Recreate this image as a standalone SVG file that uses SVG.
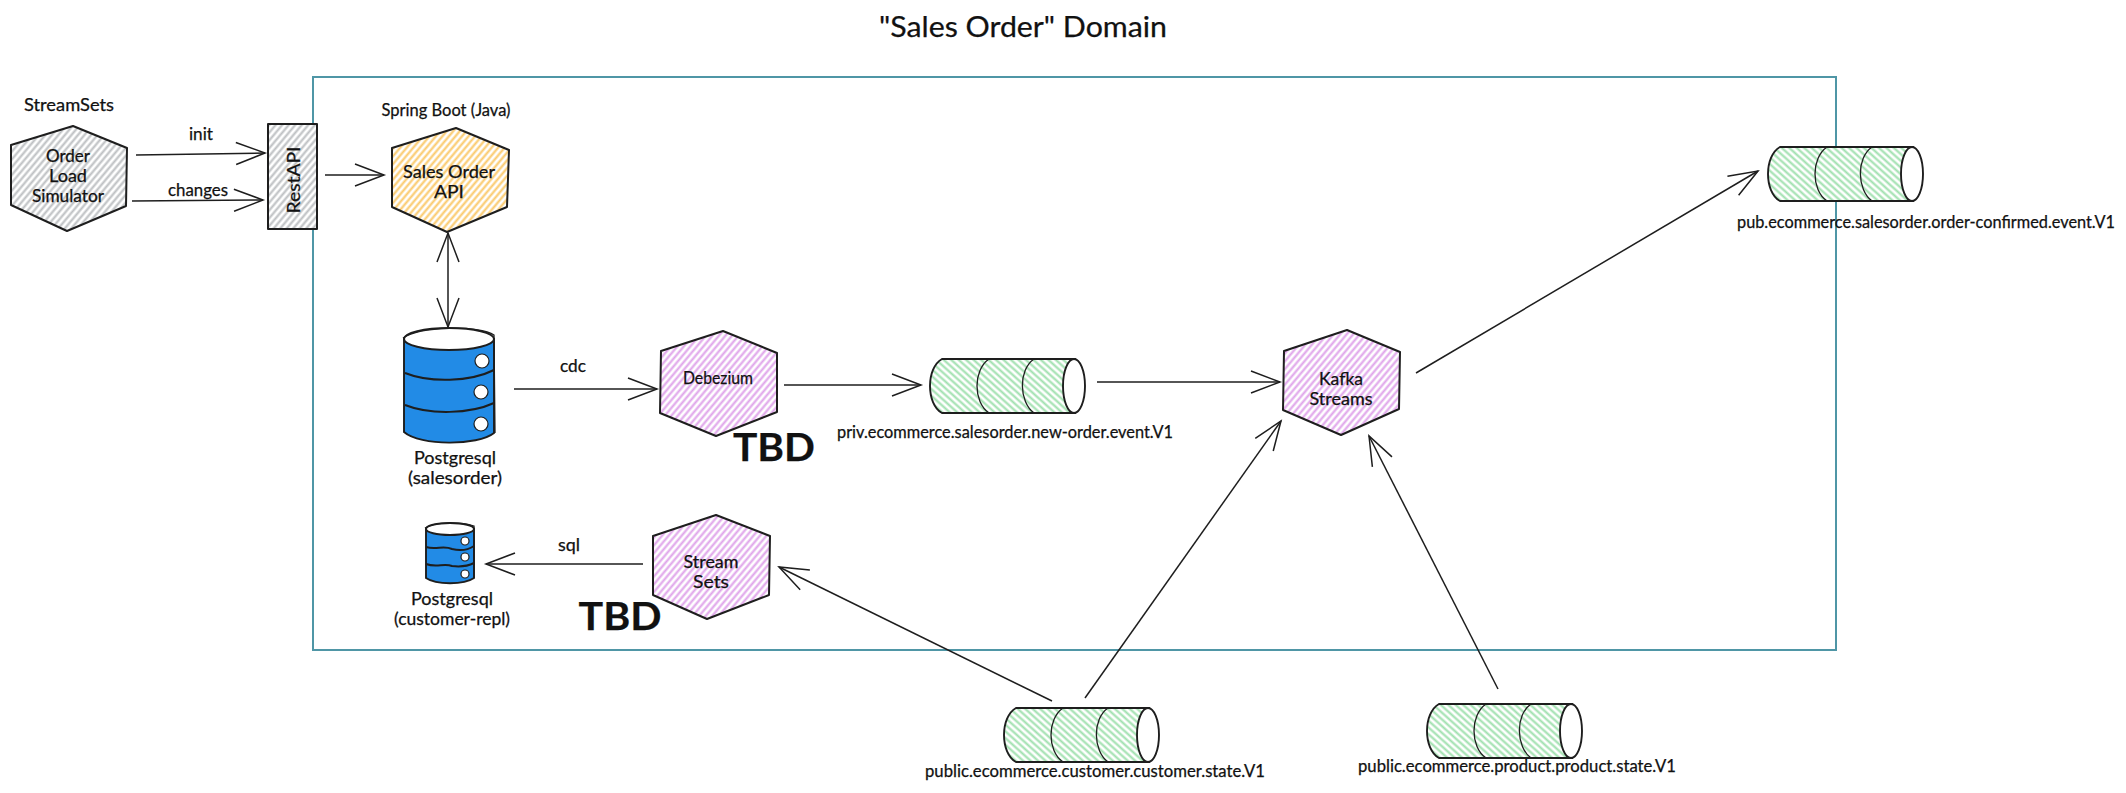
<svg xmlns="http://www.w3.org/2000/svg" width="2126" height="793" viewBox="0 0 2126 793">
<style>
text{font-family:"Lato","Noto Sans",sans-serif;fill:#111;stroke:#111;stroke-width:.25;text-anchor:middle;font-size:16.5px}
.big{font-size:39px;font-weight:700}
.title{font-size:28px}
.hex{stroke:#1e1e1e;stroke-width:2;stroke-linejoin:round}
.sk{fill:none;stroke:#1e1e1e;stroke-width:1.3}
.ln{fill:none;stroke:#1e1e1e;stroke-width:1.5;marker-end:url(#head)}
.band{fill:none;stroke:#1e1e1e;stroke-width:2}
.hole{fill:#fff;stroke:#1e1e1e;stroke-width:1.2}
</style>
<defs>
<pattern id="hGray" width="5" height="5" patternUnits="userSpaceOnUse" patternTransform="rotate(-50)"><rect width="5" height="5" fill="#fff"/><line x1="0" y1="1.5" x2="5" y2="1.5" stroke="#bdbfc2" stroke-width="2.1"/></pattern>
<pattern id="hOrange" width="5" height="5" patternUnits="userSpaceOnUse" patternTransform="rotate(-50)"><rect width="5" height="5" fill="#fff"/><line x1="0" y1="1.5" x2="5" y2="1.5" stroke="#fbc96a" stroke-width="2.1"/></pattern>
<pattern id="hPurple" width="5" height="5" patternUnits="userSpaceOnUse" patternTransform="rotate(-50)"><rect width="5" height="5" fill="#fff"/><line x1="0" y1="1.5" x2="5" y2="1.5" stroke="#dfa3ea" stroke-width="2.1"/></pattern>
<pattern id="hGreen" width="5" height="5" patternUnits="userSpaceOnUse" patternTransform="rotate(42)"><rect width="5" height="5" fill="#fff"/><line x1="0" y1="1.5" x2="5" y2="1.5" stroke="#9fe0ae" stroke-width="2.1"/></pattern>
<marker id="head" viewBox="-32 -14 36 28" refX="0" refY="0" markerWidth="36" markerHeight="28" markerUnits="userSpaceOnUse" orient="auto-start-reverse"><path d="M-29,-11 L0,0 L-29,11" fill="none" stroke="#1e1e1e" stroke-width="1.5"/></marker>
<symbol id="cyl" width="160" height="60" viewBox="-2 -2 160 60" overflow="visible">
<path d="M13,1 L146,1 L146,55 L13,55 C-3,46 -3,10 13,1Z" fill="url(#hGreen)" stroke="#1e1e1e" stroke-width="1.9"/>
<path class="sk" d="M60,1 C44,12 44,44 60,55"/>
<path class="sk" d="M105,1 C89,12 90,44 105,55"/>
<ellipse cx="145" cy="28" rx="11" ry="27" fill="#fff" stroke="#1e1e1e" stroke-width="1.9"/>
</symbol>
</defs>

<rect id="domain-frame" x="313" y="77" width="1523" height="573" fill="none" stroke="#4f96a6" stroke-width="2"/>
<text id="domain-title" class="title" x="1023" y="37" textLength="288" lengthAdjust="spacingAndGlyphs">"Sales Order" Domain</text>

<g id="connectors">
<line class="ln" x1="136" y1="155" x2="265" y2="153"/>
<line class="ln" x1="132" y1="201" x2="263" y2="200"/>
<line class="ln" x1="325" y1="175" x2="384" y2="175"/>
<line class="ln" x1="448" y1="233" x2="448" y2="327" style="marker-start:url(#head)"/>
<line class="ln" x1="514" y1="389" x2="657" y2="389"/>
<line class="ln" x1="784" y1="385" x2="921" y2="385"/>
<line class="ln" x1="1097" y1="382" x2="1280" y2="382"/>
<line class="ln" x1="643" y1="564" x2="486" y2="564"/>
<line class="ln" x1="1052" y1="701" x2="779" y2="567"/>
<line class="ln" x1="1085" y1="698" x2="1281" y2="421"/>
<line class="ln" x1="1498" y1="689" x2="1369" y2="436"/>
<line class="ln" x1="1416" y1="373" x2="1758" y2="171"/>
<text x="201" y="140" textLength="24" lengthAdjust="spacingAndGlyphs">init</text>
<text x="198" y="196" textLength="60" lengthAdjust="spacingAndGlyphs">changes</text>
<text x="573" y="372" textLength="26" lengthAdjust="spacingAndGlyphs">cdc</text>
<text x="569" y="551" textLength="22" lengthAdjust="spacingAndGlyphs">sql</text>
</g>

<g id="order-load-simulator">
<text x="69" y="111" textLength="90" lengthAdjust="spacingAndGlyphs">StreamSets</text>
<polygon class="hex" fill="url(#hGray)" points="73,126 127,148 126,206 67,231 11,205 11,145"/>
<text x="68" y="162" textLength="44" lengthAdjust="spacingAndGlyphs">Order</text>
<text x="68" y="182" textLength="38" lengthAdjust="spacingAndGlyphs">Load</text>
<text x="68" y="202" textLength="72" lengthAdjust="spacingAndGlyphs">Simulator</text>
</g>

<g id="rest-api">
<rect class="hex" x="268" y="124" width="49" height="105" fill="url(#hGray)"/>
<text transform="translate(300,180) rotate(-90)" textLength="67" lengthAdjust="spacingAndGlyphs">RestAPI</text>
</g>

<g id="sales-order-api">
<text x="446" y="116" textLength="129" lengthAdjust="spacingAndGlyphs">Spring Boot (Java)</text>
<polygon class="hex" fill="url(#hOrange)" points="456,128 509,150 507,207 447,232 392,207 392,148"/>
<text x="449" y="178" textLength="92" lengthAdjust="spacingAndGlyphs">Sales Order</text>
<text x="449" y="198" textLength="30" lengthAdjust="spacingAndGlyphs">API</text>
</g>

<g id="postgresql-salesorder">
<path d="M404,339 L404,432 C420,446 478,446 494,433 L494,339Z" fill="#228be6" stroke="#1e1e1e" stroke-width="1.9"/>
<ellipse cx="449" cy="339" rx="45" ry="11" fill="#fff" stroke="#1e1e1e" stroke-width="1.9"/>
<path class="sk" d="M403,338 C420,326 480,325 494,335 L495,433"/>
<path class="band" d="M405,373 C430,383 470,382 494,370"/>
<path class="band" d="M405,405 C430,415 470,414 494,403"/>
<circle class="hole" cx="482" cy="361" r="7"/>
<circle class="hole" cx="481" cy="392" r="7"/>
<circle class="hole" cx="481" cy="424" r="7"/>
<text x="455" y="464" textLength="82" lengthAdjust="spacingAndGlyphs">Postgresql</text>
<text x="455" y="484" textLength="94" lengthAdjust="spacingAndGlyphs">(salesorder)</text>
</g>

<g id="postgresql-customer-repl">
<path d="M426,529 L426,578 C436,585 464,585 474,578 L474,529Z" fill="#228be6" stroke="#1e1e1e" stroke-width="1.9"/>
<ellipse cx="450" cy="529" rx="24" ry="6" fill="#fff" stroke="#1e1e1e" stroke-width="1.9"/>
<path class="sk" d="M425,528 C436,521 462,522 474,526 L474,578"/>
<path class="band" d="M426,547 C436,550 444,545 452,549 C460,551 468,550 474,546"/>
<path class="band" d="M426,564 C436,568 444,563 452,566 C460,567 468,566 474,563"/>
<circle class="hole" cx="465" cy="541" r="4"/>
<circle class="hole" cx="465" cy="557" r="4"/>
<circle class="hole" cx="465" cy="574" r="4"/>
<text x="452" y="605" textLength="82" lengthAdjust="spacingAndGlyphs">Postgresql</text>
<text x="452" y="625" textLength="116" lengthAdjust="spacingAndGlyphs">(customer-repl)</text>
</g>

<g id="debezium">
<polygon class="hex" fill="url(#hPurple)" points="723,331 777,353 777,412 716,436 660,413 661,351"/>
<text x="718" y="384" textLength="70" lengthAdjust="spacingAndGlyphs">Debezium</text>
<text class="big" x="774" y="461" textLength="82" lengthAdjust="spacingAndGlyphs">TBD</text>
</g>

<g id="stream-sets">
<polygon class="hex" fill="url(#hPurple)" points="716,515 770,536 769,595 707,619 653,595 653,536"/>
<text x="711" y="568" textLength="55" lengthAdjust="spacingAndGlyphs">Stream</text>
<text x="711" y="588" textLength="36" lengthAdjust="spacingAndGlyphs">Sets</text>
<text class="big" x="620" y="630" textLength="83" lengthAdjust="spacingAndGlyphs">TBD</text>
</g>

<g id="kafka-streams">
<polygon class="hex" fill="url(#hPurple)" points="1347,330 1400,352 1399,409 1341,435 1283,410 1284,351"/>
<text x="1341" y="385" textLength="44" lengthAdjust="spacingAndGlyphs">Kafka</text>
<text x="1341" y="405" textLength="63" lengthAdjust="spacingAndGlyphs">Streams</text>
</g>

<g id="topic-new-order">
<use href="#cyl" x="927" y="356"/>
<text x="1005" y="438" textLength="336" lengthAdjust="spacingAndGlyphs">priv.ecommerce.salesorder.new-order.event.V1</text>
</g>

<g id="topic-order-confirmed">
<use href="#cyl" x="1765" y="144"/>
<text x="1926" y="228" textLength="378" lengthAdjust="spacingAndGlyphs">pub.ecommerce.salesorder.order-confirmed.event.V1</text>
</g>

<g id="topic-customer">
<use href="#cyl" x="1001" y="705"/>
<text x="1095" y="777" textLength="340" lengthAdjust="spacingAndGlyphs">public.ecommerce.customer.customer.state.V1</text>
</g>

<g id="topic-product">
<use href="#cyl" x="1424" y="701"/>
<text x="1517" y="772" textLength="318" lengthAdjust="spacingAndGlyphs">public.ecommerce.product.product.state.V1</text>
</g>
</svg>
